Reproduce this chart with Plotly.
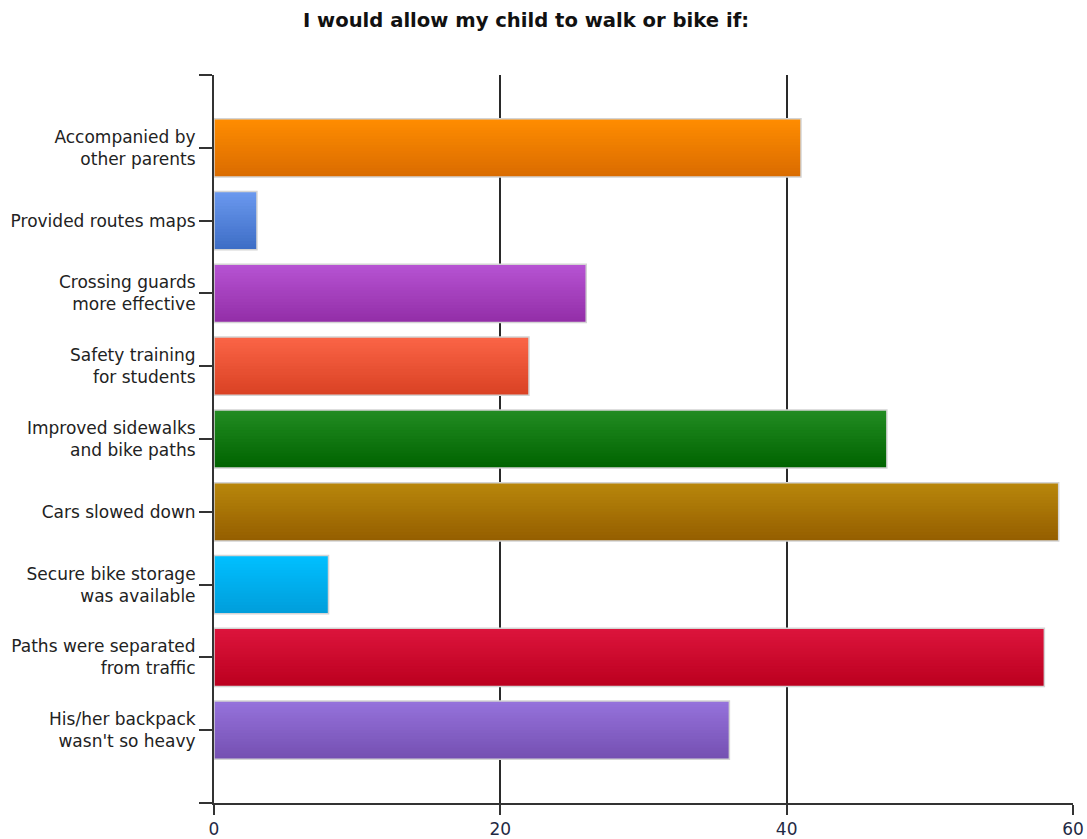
import plotly.graph_objects as go

# Survey responses: "I would allow my child to walk or bike if:"
categories = [
    "Accompanied by<br>other parents",
    "Provided routes maps",
    "Crossing guards<br>more effective",
    "Safety training<br>for students",
    "Improved sidewalks<br>and bike paths",
    "Cars slowed down",
    "Secure bike storage<br>was available",
    "Paths were separated<br>from traffic",
    "His/her backpack<br>wasn't so heavy",
]
counts = [41, 3, 26, 22, 47, 59, 8, 58, 36]

# top / bottom shades of each bar's vertical gradient
top_colors = ["#FF8C00", "#6A98EE", "#B653D2", "#FA6446", "#228B22",
              "#B8860B", "#00BFFF", "#DC143C", "#9572DB"]
bottom_colors = ["#DA6C00", "#3E6EC6", "#932EA8", "#DA4224", "#006400",
                 "#955F00", "#009EDB", "#BC001F", "#7550B2"]

x_ticks = [0, 20, 40, 60]

positions = list(range(len(categories)))
BAR_W = 0.8
STEPS = 20


def hex_to_rgb(h):
    h = h.lstrip("#")
    return tuple(int(h[i:i + 2], 16) for i in (0, 2, 4))


def blend(c1, c2, t):
    a, b = hex_to_rgb(c1), hex_to_rgb(c2)
    return "rgb({},{},{})".format(*[round(a[i] + (b[i] - a[i]) * t) for i in range(3)])


fig = go.Figure()

# gradient: stacked slices, each running from its own top edge down to the bar bottom
step = BAR_W / STEPS
for k in range(STEPS):
    t = k / (STEPS - 1)
    fig.add_trace(go.Bar(
        y=positions,
        x=counts,
        orientation="h",
        width=BAR_W - k * step,
        offset=-BAR_W / 2 + k * step,
        marker=dict(color=[blend(c1, c2, t) for c1, c2 in zip(top_colors, bottom_colors)],
                    line=dict(width=0)),
        showlegend=False,
        hoverinfo="skip",
    ))

# light outline around each bar
fig.add_trace(go.Bar(
    y=positions,
    x=counts,
    orientation="h",
    width=BAR_W,
    marker=dict(color="rgba(0,0,0,0)", line=dict(color="#D4D4D4", width=1.5)),
    customdata=categories,
    hovertemplate="%{customdata}: %{x}<extra></extra>",
    showlegend=False,
))

fig.update_layout(
    barmode="overlay",
    width=1087,
    height=839,
    autosize=False,
    margin=dict(l=214, r=14, t=75, b=36, autoexpand=False),
    paper_bgcolor="white",
    plot_bgcolor="white",
    font=dict(family="DejaVu Sans", size=17, color="#222222"),
    title=dict(
        text="<b>I would allow my child to walk or bike if:</b>",
        x=526 / 1087,
        xanchor="center",
        y=1 - 20 / 839,
        yanchor="middle",
        font=dict(family="DejaVu Sans", size=19.6, color="#111111"),
    ),
    xaxis=dict(
        range=[0, 60],
        tickvals=x_ticks,
        automargin=False,
        showgrid=True,
        gridcolor="#2A2A2A",
        gridwidth=1.5,
        zeroline=False,
        showline=True,
        linecolor="#333333",
        linewidth=2,
        ticks="outside",
        ticklen=10,
        tickwidth=2,
        tickcolor="#333333",
        tickfont=dict(size=17, color="#1F2A44"),
    ),
    yaxis=dict(
        range=[len(categories), -1],
        tickvals=[-1] + positions + [len(categories)],
        ticktext=[""] + categories + [""],
        automargin=False,
        showgrid=False,
        zeroline=False,
        showline=True,
        linecolor="#333333",
        linewidth=2,
        ticks="outside",
        ticklen=13,
        tickwidth=2,
        tickcolor="#333333",
        ticklabelstandoff=0,
    ),
)

fig.write_html("out.html")
